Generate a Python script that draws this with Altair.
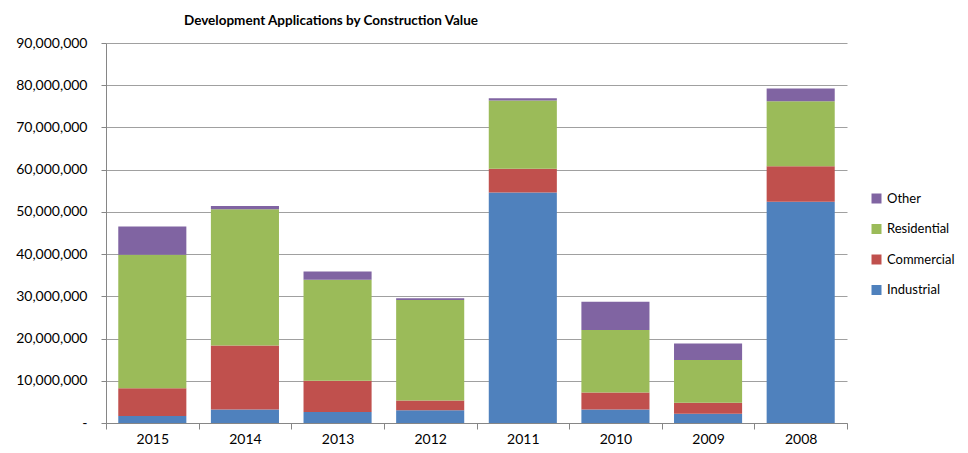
import altair as alt
import pandas as pd

years = ["2015", "2014", "2013", "2012", "2011", "2010", "2009", "2008"]
series = ["Industrial", "Commercial", "Residential", "Other"]
industrial = [1.65, 3.2, 2.6, 3.0, 54.6, 3.2, 2.2, 52.4]
commercial = [6.6, 15.15, 7.4, 2.35, 5.6, 4.05, 2.6, 8.4]
residential = [31.6, 32.25, 23.9, 23.8, 16.2, 14.8, 10.15, 15.4]
other = [6.7, 0.8, 2.0, 0.4, 0.5, 6.65, 3.85, 3.0]
colors = ["#4F81BD", "#C0504D", "#9BBB59", "#8064A2"]
legend_order = ["Other", "Residential", "Commercial", "Industrial"]
y_ticks = [0, 10000000, 20000000, 30000000, 40000000, 50000000,
           60000000, 70000000, 80000000, 90000000]

rows = []
for si, (name, vals) in enumerate(zip(series, [industrial, commercial, residential, other])):
    for yr, v in zip(years, vals):
        rows.append({"Year": yr, "Type": name, "Value": v * 1e6, "ord": si})
df = pd.DataFrame(rows)

color_range = [colors[series.index(s)] for s in legend_order]
FONT = "Lato"

chart = alt.Chart(df).mark_bar(width={"band": 0.735}).encode(
    x=alt.X("Year:N", sort=years,
            scale=alt.Scale(paddingInner=0, paddingOuter=0),
            axis=alt.Axis(title=None, tickBand="extent", labelAngle=0,
                          labelFontSize=14, labelPadding=3, tickSize=6,
                          domainColor="#868686", tickColor="#868686",
                          labelColor="#000000", labelFont=FONT, grid=False)),
    y=alt.Y("Value:Q", stack="zero",
            scale=alt.Scale(domain=[0, 90000000], nice=False),
            axis=alt.Axis(title=None, values=y_ticks, tickSize=5, labelPadding=14,
                          labelFontSize=14, labelFont=FONT, labelColor="#000000",
                          domainColor="#868686", tickColor="#868686",
                          gridColor="#a0a0a0", gridWidth=1,
                          labelExpr="datum.value == 0 ? '-\u00a0\u00a0\u00a0' : format(datum.value, ',')")),
    color=alt.Color("Type:N", scale=alt.Scale(domain=legend_order, range=color_range),
                    legend=alt.Legend(title=None, orient="none", legendX=764, legendY=149,
                                      labelFontSize=13, labelFont=FONT, labelColor="#000000",
                                      symbolType="square", symbolSize=100, symbolStrokeWidth=0,
                                      rowPadding=16.5, labelOffset=4, labelLimit=200)),
    order=alt.Order("ord:Q", sort="ascending"),
).properties(
    width=741, height=380,
    padding={"left": 98, "top": 35, "right": 113, "bottom": 28},
    autosize=alt.AutoSizeParams(type="none"),
    title=alt.TitleParams("Development Applications by Construction Value",
                          anchor="start", frame="group", dx=78, fontSize=13.5, font=FONT,
                          fontWeight="bold", color="#000000", offset=9),
).configure_view(stroke=None)

chart.save("out.html", embed_options={"renderer": "svg", "actions": False})
